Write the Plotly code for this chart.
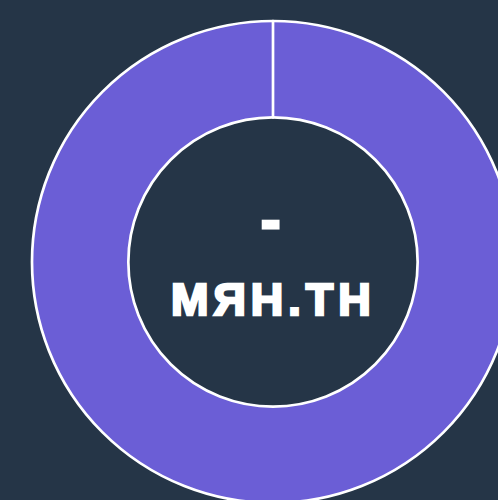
import plotly.graph_objects as go

labels = ["МЯН.ТН", ""]
values = [1, 0]
center_value = "-"
center_unit = "МЯН.ТН"

BG = "#253547"
PURPLE = "#6b5ed6"
UNIT_STYLE = "letter-spacing:5px;stroke:white;stroke-width:2.5px"
VALUE_STYLE = "letter-spacing:6px;stroke:white;stroke-width:3px"

fig = go.Figure(go.Pie(
    labels=labels,
    values=values,
    hole=0.6,
    sort=False,
    direction="clockwise",
    rotation=0,
    marker=dict(colors=[PURPLE, PURPLE], line=dict(color="white", width=2.7)),
    textinfo="none",
    hoverinfo="skip",
    showlegend=False,
))

fig.update_layout(
    width=530, height=505,
    margin=dict(l=32, r=16, t=21, b=2),
    paper_bgcolor=BG, plot_bgcolor=BG,
    annotations=[
        dict(text=f"<span style='{VALUE_STYLE}'>{center_value}</span>", x=0.5, y=0.5,
             xref="paper", yref="paper", yshift=43, showarrow=False,
             font=dict(family="Liberation Sans", size=58, color="white", weight="bold")),
        dict(text=f"<span style='{UNIT_STYLE}'>{center_unit}</span>", x=0.5, y=0.5,
             xref="paper", yref="paper", yshift=-37, showarrow=False,
             font=dict(family="Liberation Sans", size=45, color="white", weight="bold")),
    ],
)

fig.write_html("out.html", config={"displayModeBar": False},
               post_script="document.body.style.margin='0';document.body.style.overflow='hidden';")
